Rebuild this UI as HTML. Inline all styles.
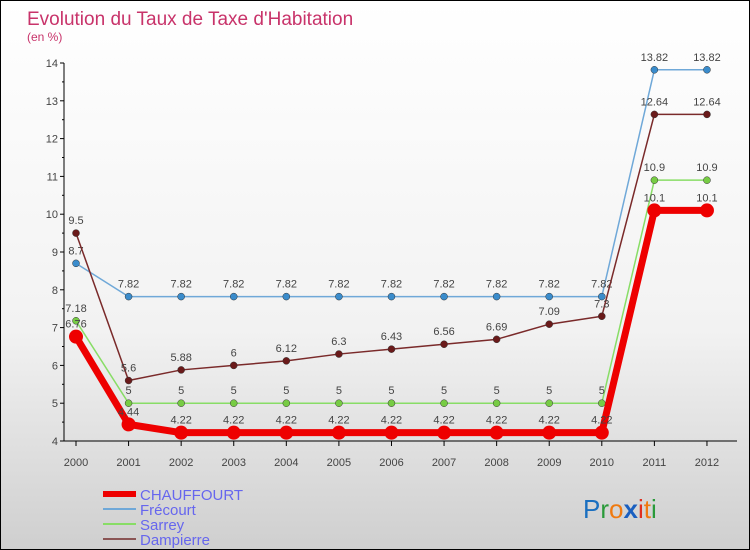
<!DOCTYPE html>
<html><head><meta charset="utf-8"><style>
body{margin:0}
#c{width:750px;height:550px;position:relative;overflow:hidden;font-family:"Liberation Sans",sans-serif;background:linear-gradient(#ffffff,#f2f2f2 60%,#cfcfcf);border:1px solid #000;box-sizing:border-box}
</style></head><body>
<div id="c">
<svg id="s" width="750" height="550">
<text x="26" y="24" font-size="19" fill="#c8336a">Evolution du Taux de Taxe d'Habitation</text>
<text x="26" y="40" font-size="12" fill="#c8336a">(en %)</text>
<text x="582" y="517" font-size="26"><tspan fill="#1a6fc0">P</tspan><tspan fill="#2a9a3a">r</tspan><tspan fill="#f07a10">o</tspan><tspan fill="#1a5fc0" font-weight="bold">x</tspan><tspan fill="#e03020">i</tspan><tspan fill="#f07a10">t</tspan><tspan fill="#2a9a3a">i</tspan></text>
</svg>
</div>
<script>
const years=[2000,2001,2002,2003,2004,2005,2006,2007,2008,2009,2010,2011,2012];
const yTicks=[4,5,6,7,8,9,10,11,12,13,14];
const chauffourt=[6.76,4.44,4.22,4.22,4.22,4.22,4.22,4.22,4.22,4.22,4.22,10.1,10.1];
const frecourt=[8.7,7.82,7.82,7.82,7.82,7.82,7.82,7.82,7.82,7.82,7.82,13.82,13.82];
const sarrey=[7.18,5,5,5,5,5,5,5,5,5,5,10.9,10.9];
const dampierre=[9.5,5.6,5.88,6,6.12,6.3,6.43,6.56,6.69,7.09,7.3,12.64,12.64];
const s=document.getElementById('s');const NS='http://www.w3.org/2000/svg';
function el(t,a,txt){const e=document.createElementNS(NS,t);for(const k in a)e.setAttribute(k,a[k]);if(txt!==undefined)e.textContent=txt;s.appendChild(e);return e;}
const X=i=>75+i*52.58, Y=v=>440-(v-4)*37.8;
let e=el('line',{x1:63,y1:62,x2:63,y2:440,stroke:'#000'});

e=el('line',{x1:63,y1:440,x2:736,y2:440,stroke:'#000'});

yTicks.forEach(v=>{el('line',{x1:59,y1:Y(v),x2:63,y2:Y(v),stroke:'#000'});
if(v<14)el('line',{x1:61,y1:Y(v+0.5),x2:63,y2:Y(v+0.5),stroke:'#000'});
e=el('text',{x:57,y:Y(v)+4,'font-size':11,fill:'#444','text-anchor':'end'},v);
});
years.forEach((y,i)=>{el('line',{x1:X(i),y1:440,x2:X(i),y2:445,stroke:'#000'});
e=el('text',{x:X(i),y:465,'font-size':11,fill:'#444','text-anchor':'middle'},y);
});
function series(d,col,w,r,dot,name){
 e=el('polyline',{points:d.map((v,i)=>X(i)+','+Y(v)).join(' '),fill:'none',stroke:col,'stroke-width':w,'stroke-linejoin':'round'});
 
 d.forEach((v,i)=>{e=el('circle',{cx:X(i),cy:Y(v),r:r,fill:dot,stroke:'#333','stroke-width':r>4?0:0.5});
 
 e=el('text',{x:X(i),y:Y(v)-9,'font-size':11,fill:'#444','text-anchor':'middle'},String(v));
 });
}
series(sarrey,'#88dd66',1.5,3.5,'#77cc44','sarrey');
series(frecourt,'#6fa8d8',1.5,3.5,'#3a8ccc','frecourt');
series(dampierre,'#7a2a2a',1.5,3.5,'#6a1a1a','dampierre');
series(chauffourt,'#ee0000',7,7,'#ee0000','chauffourt');
const leg=[['CHAUFFOURT','#ee0000',6],['Frécourt','#6fa8d8',2],['Sarrey','#88dd66',2],['Dampierre','#8a5555',2]];
leg.forEach((l,i)=>{const y=493+i*15;
 e=el('line',{x1:102,y1:y,x2:135,y2:y,stroke:l[1],'stroke-width':l[2]});
 
 e=el('text',{x:139,y:y+6,'font-size':15,fill:'#6666ee'},l[0]);
 });
</script>
</body></html>
